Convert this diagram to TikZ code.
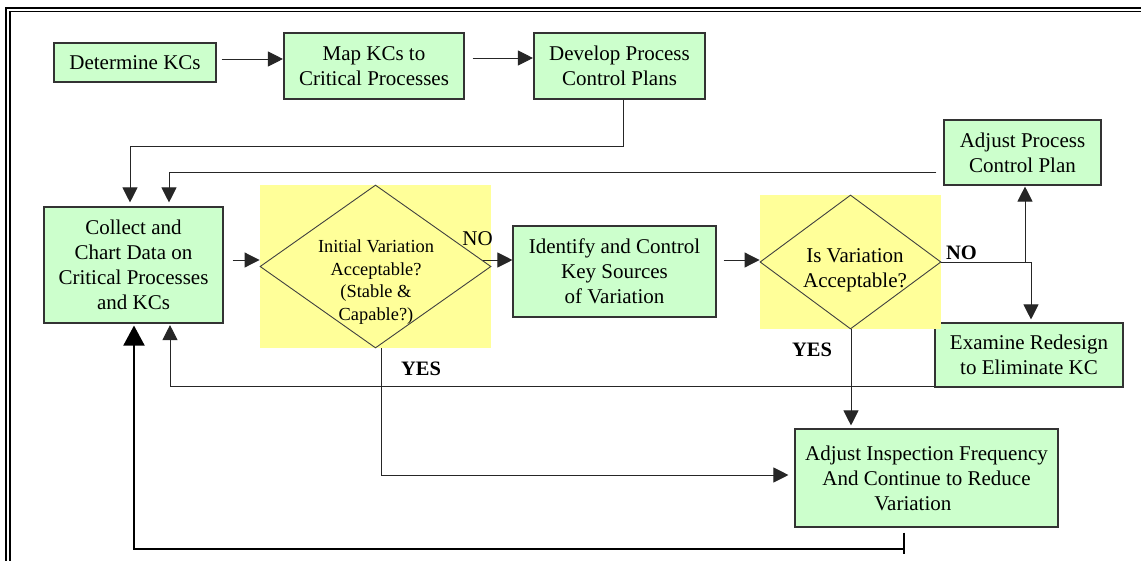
\documentclass[tikz,border=0pt]{standalone}
\usepackage{fontspec}
\setmainfont{Liberation Serif}
\usetikzlibrary{arrows.meta,shapes.geometric,calc}
\definecolor{boxgreen}{HTML}{CCFFCC}
\definecolor{hiyellow}{HTML}{FFFF99}
\begin{document}
\begin{tikzpicture}[x=1pt,y=-1pt,
  box/.style={draw=black!80, line width=1.1pt, fill=boxgreen, inner sep=0pt,
    align=center, font=\fontsize{21}{25}\selectfont},
  hl/.style={rectangle, fill=hiyellow, inner sep=0pt},
  decision/.style={diamond, draw=black!75, line width=0.9pt, inner sep=0pt},
  dtext/.style={inner sep=0pt, align=center},
  conn/.style={draw=black!85, line width=1pt},
  arr/.style={conn, -{Triangle[length=15pt,width=15pt]}},
  thickline/.style={draw=black, line width=2pt},
  thickarr/.style={thickline, -{Triangle[length=20pt,width=21pt]}},
  lbl/.style={inner sep=0pt, font=\fontsize{21}{25}\selectfont},
  blbl/.style={inner sep=0pt, font=\fontsize{20.5}{25}\selectfont\bfseries}
]
\useasboundingbox (0,0) rectangle (1141,560);
\clip (0,0) rectangle (1141,560);

% double page frame
\draw[line width=2pt] (5.5,600) -- (5.5,7.5) -- (1200,7.5);
\draw[line width=1.3pt] (10,600) -- (10,11.7) -- (1200,11.7);

% process boxes
\node[box, minimum width=162pt, minimum height=39pt] (det) at (135,62.5) {Determine KCs};
\node[box, minimum width=180pt, minimum height=66pt] (map) at (374,66) {Map KCs to\\Critical Processes};
\node[box, minimum width=171pt, minimum height=66pt] (dev) at (619.5,66) {Develop Process\\Control Plans};
\node[box, minimum width=179pt, minimum height=116pt] (collect) at (133.5,265)
  {Collect and\\Chart Data on\\Critical Processes\\and KCs};
\node[box, minimum width=203pt, minimum height=91pt] (ident) at (614.5,271.5)
  {Identify and Control\\Key Sources\\of Variation};
\node[box, minimum width=157pt, minimum height=65pt] (apcp) at (1022.5,152.5) {Adjust Process\\Control Plan};
\node[box, minimum width=188pt, minimum height=64pt] (exam) at (1029,355) {Examine Redesign\\to Eliminate KC};
\node[box, minimum width=263pt, minimum height=98pt] (ains) at (926.5,478)
  {Adjust Inspection Frequency\\And Continue to Reduce\\Variation\hspace*{1.3em}};

% decisions on highlighted panels
\node[hl, minimum width=231pt, minimum height=163pt] (d1bg) at (375.5,266.5) {};
\node[decision, minimum width=231pt, minimum height=163pt] (d1) at (375.5,266.5) {};
\node[dtext, font=\fontsize{18.4}{22.4}\selectfont] (d1t) at (376,282)
  {Initial Variation\\Acceptable?\\(Stable \&\\Capable?)};
\node[hl, minimum width=181pt, minimum height=134pt] (d2bg) at (850.5,262) {};
\node[decision, minimum width=181pt, minimum height=134pt] (d2) at (850.5,262) {};
\node[dtext, font=\fontsize{21}{25}\selectfont] (d2t) at (855,270) {Is Variation\\Acceptable?};

% connectors
\draw[arr] ($(det.east)+(5,-3.5)$) -- ($(map.west)+(-0.5,-7)$);
\draw[arr] ($(map.east)+(8,-8)$) -- ($(dev.west)+(-0.5,-8)$);
\draw[arr] ($(dev.south)+(3.5,0)$) -- ++(0,47) -| ($(collect.north)+(-3.5,-4)$);
\draw[arr] ($(apcp.west)+(-7,19.5)$) -| ($(collect.north)+(35.5,-4)$);
\draw[arr] ($(collect.east)+(9,-5)$) -- ($(d1.west)+(0,-6.5)$);
\draw[arr] ($(d1.east)+(-8,-6.5)$) -- ($(ident.west)+(0,-11.5)$);
\draw[arr] ($(ident.east)+(7,-11.5)$) -- ($(d2.west)+(0,-2)$);
\draw[arr] (d2.east) -| ($(exam.north)+(2,-3)$);
\draw[arr] ($(apcp.south)+(2.5,77)$) -- ($(apcp.south)+(2.5,1)$);
\draw[arr] ($(d2.south)+(0.5,0)$) -- ($(d2.south |- ains.north)+(0.5,-3)$);
\draw[arr] ($(exam.south west)+(0,-1)$) -| ($(collect.south)+(36.5,1.5)$);
\draw[arr] ($(d1.south)+(5.5,0)$) |- ($(ains.west)+(-6,-3)$);
\draw[thickarr] ($(ains.south)+(-22.5,5)$) -- ++(0,16) -| ($(collect.south)+(0.5,2)$);
\draw[thickline] ($(ains.south)+(-22.5,21)$) -- ++(0,5);

% branch labels
\node[lbl] (no1) at (477.5,238.5) {NO};
\node[blbl] (no2) at (961.5,253) {NO};
\node[blbl] (yes1) at (421,368.5) {YES};
\node[blbl] (yes2) at (812,349.5) {YES};
\end{tikzpicture}
\end{document}
